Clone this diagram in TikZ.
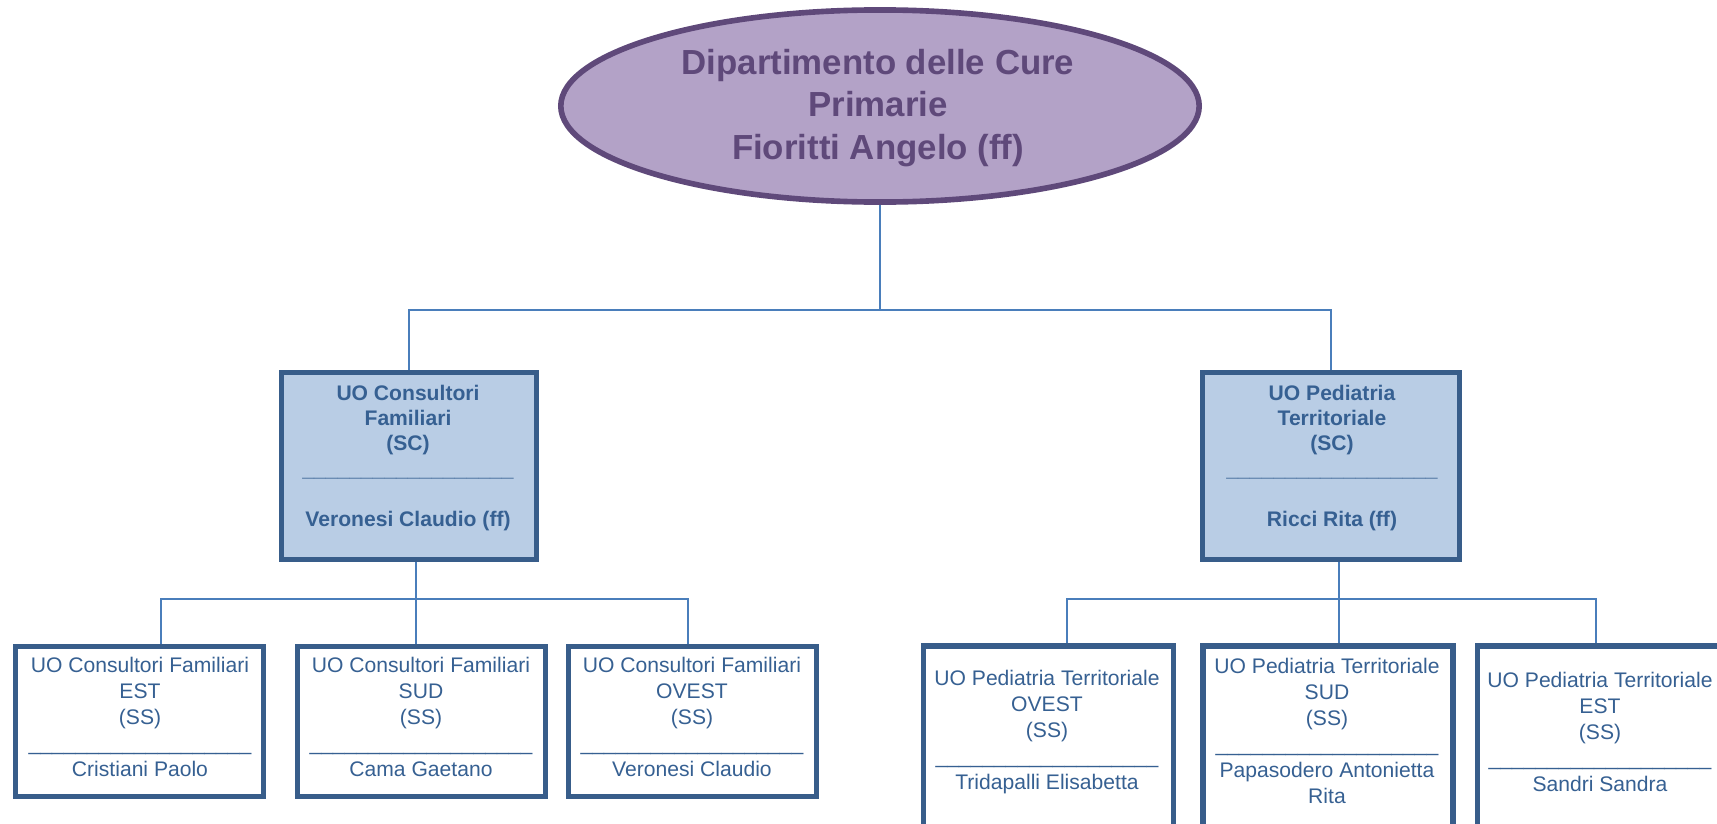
\documentclass[tikz,border=0pt]{standalone}
\usepackage{fontspec}
\setmainfont{Liberation Sans}
\usetikzlibrary{shapes.geometric,calc}
\definecolor{purpfill}{HTML}{B3A2C7}
\definecolor{purpline}{HTML}{5F497A}
\definecolor{bluefill}{HTML}{B9CDE5}
\definecolor{blueline}{HTML}{385D8A}
\definecolor{conncol}{HTML}{4A7EBB}
\definecolor{txtblue}{HTML}{366092}
\newcommand\myusa{\_\_\_\_\_\_\_\_\_\_\_\_\_\_\_\_\_\_\_}
\newcommand\myusb{\_\_\_\_\_\_\_\_\_\_\_\_\_\_\_\_\_\_}
\begin{document}
\begin{tikzpicture}[x=0.01cm,y=-0.01cm,
 conn/.style={draw=conncol,line width=0.6pt},
 topnode/.style={ellipse,draw=purpline,fill=purpfill,line width=1.6pt,minimum width=6.38cm,minimum height=1.92cm,inner sep=0pt},
 scbox/.style={draw=blueline,fill=bluefill,line width=1.6pt,minimum width=2.55cm,minimum height=1.87cm,inner sep=0pt},
 chbox/.style={draw=blueline,fill=white,line width=1.6pt,minimum width=2.48cm,minimum height=1.50cm,inner sep=0pt},
 rchbox/.style={draw=blueline,fill=white,line width=1.6pt,minimum width=2.50cm,minimum height=2.04cm,inner sep=0pt},
 toptext/.style={text=purpline,font=\fontsize{9.9}{12.2}\selectfont\bfseries,align=center,inner sep=0pt},
 sctext/.style={text=txtblue,font=\fontsize{6}{7.2}\selectfont\bfseries,align=center,inner sep=0pt},
 chtext/.style={text=txtblue,font=\fontsize{6}{7.4}\selectfont,align=center,inner sep=0pt}]
\useasboundingbox (0,0) rectangle (1717,824);
\clip (0,0) rectangle (1717,824);

% top
\node[topnode] (top) at (880,106) {};
\node[toptext] (toptxt) at (878,108) {Dipartimento delle Cure\\Primarie\\Fioritti Angelo (ff)};

% second level
\node[scbox] (sc1) at (409,466) {};
\node[sctext] (sc1t) at (408,458) {UO Consultori\\Familiari\\(SC)\\\myusb\\\mbox{}\\Veronesi Claudio (ff)};
\node[scbox,minimum width=2.57cm] (sc2) at (1331,466) {};
\node[sctext] (sc2t) at (1332,458) {UO Pediatria\\Territoriale\\(SC)\\\myusb\\\mbox{}\\Ricci Rita (ff)};

% left children
\node[chbox] (b1) at (139.5,721.5) {};
\node[chtext] (b1t) at (140,717) {UO Consultori Familiari\\EST\\(SS)\\\myusa\\Cristiani Paolo};
\node[chbox] (b2) at (421.5,721.5) {};
\node[chtext] (b2t) at (421,717) {UO Consultori Familiari\\SUD\\(SS)\\\myusa\\Cama Gaetano};
\node[chbox] (b3) at (692.5,721.5) {};
\node[chtext] (b3t) at (692,717) {UO Consultori Familiari\\OVEST\\(SS)\\\myusa\\Veronesi Claudio};

% right children
\node[rchbox] (b4) at (1048.5,748) {};
\node[chtext] (b4t) at (1047,732) {UO Pediatria Territoriale\\OVEST\\(SS)\\\myusa\\Tridapalli Elisabetta};
\node[rchbox] (b5) at (1328,748) {};
\node[chtext] (b5t) at (1327,731) {UO Pediatria Territoriale\\SUD\\(SS)\\\myusa\\Papasodero Antonietta\\Rita};
\node[rchbox] (b6) at (1602.5,748) {};
\node[chtext] (b6t) at (1600,732) {UO Pediatria Territoriale\\EST\\(SS)\\\myusa\\Sandri Sandra};

% connectors
\coordinate (j0) at (880,310);
\draw[conn] (top.south) -- (j0);
\draw[conn] (sc1.north) |- (j0) -| (sc2.north);

\coordinate (l1) at (161,599);
\coordinate (l2) at (416,599);
\coordinate (l3) at (688,599);
\draw[conn] (b1.north -| l1) -- (l1) -- (l3) -- (b3.north -| l3);
\draw[conn] (sc1.south -| l2) -- (b2.north -| l2);

\coordinate (r1) at (1067,599);
\coordinate (r2) at (1339,599);
\coordinate (r3) at (1596,599);
\draw[conn] (b4.north -| r1) -- (r1) -- (r3) -- (b6.north -| r3);
\draw[conn] (sc2.south -| r2) -- (b5.north -| r2);
\end{tikzpicture}
\end{document}
